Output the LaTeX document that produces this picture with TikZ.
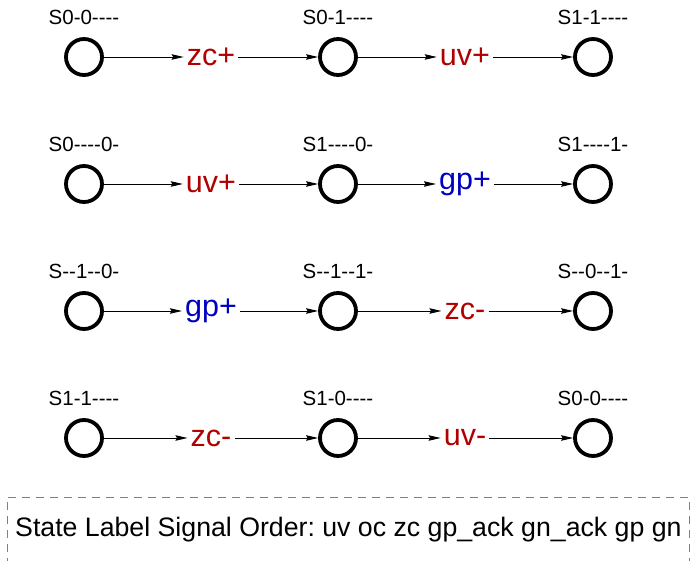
\documentclass[tikz,border=0pt]{standalone}
\usepackage{fontspec}
\setmainfont{Liberation Sans}[Ligatures=TeXOff]
\usetikzlibrary{arrows.meta, positioning}
\definecolor{eventred}{HTML}{B00000}
\definecolor{eventblue}{HTML}{0000C0}
\definecolor{legendframe}{HTML}{808080}
\frenchspacing

\begin{document}
\begin{tikzpicture}[
        x=1pt, y=-1pt,
        node distance=4pt,
        state/.style={
            draw,
            circle,
            line width=3.8pt,
            minimum size=36pt,
            inner sep=0pt
        },
        statename/.style={
            font=\fontsize{20.5}{24}\selectfont,
            inner sep=0pt
        },
        event/.style={
            font=\fontsize{30.5}{36}\selectfont,
            inner sep=3pt
        },
        rise/.style={event, text=eventred},
        guard/.style={event, text=eventblue},
        trans/.style={-{Stealth[length=12pt, width=5.5pt, inset=1.5pt]}, line width=0.9pt}
    ]
        \useasboundingbox (0,0) rectangle (691,561);

        % row 1
        \node[state] (a1) at (84,57) {};
        \node[state] (a2) at (338,57) {};
        \node[state] (a3) at (593,57) {};
        \node[statename, above=12pt of a1] (a1name) {S0-0----};
        \node[statename, above=12pt of a2] (a2name) {S0-1----};
        \node[statename, above=12pt of a3] (a3name) {S1-1----};
        \node[rise] (a12) at (211,57) {zc+};
        \node[rise] (a23) at (465,57) {uv+};
        \draw[trans] (a1) -- (a12);
        \draw[trans] (a12) -- (a2);
        \draw[trans] (a2) -- (a23);
        \draw[trans] (a23) -- (a3);

        % row 2
        \node[state] (b1) at (84,184) {};
        \node[state] (b2) at (338,184) {};
        \node[state] (b3) at (593,184) {};
        \node[statename, above=12pt of b1] (b1name) {S0----0-};
        \node[statename, above=12pt of b2] (b2name) {S1----0-};
        \node[statename, above=12pt of b3] (b3name) {S1----1-};
        \node[rise] (b12) at (211,184) {uv+};
        \node[guard] (b23) at (465,184) {gp+};
        \draw[trans] (b1) -- (b12);
        \draw[trans] (b12) -- (b2);
        \draw[trans] (b2) -- (b23);
        \draw[trans] (b23) -- (b3);

        % row 3
        \node[state] (c1) at (84,311) {};
        \node[state] (c2) at (338,311) {};
        \node[state] (c3) at (593,311) {};
        \node[statename, above=12pt of c1] (c1name) {S--1--0-};
        \node[statename, above=12pt of c2] (c2name) {S--1--1-};
        \node[statename, above=12pt of c3] (c3name) {S--0--1-};
        \node[guard] (c12) at (211,311) {gp+};
        \node[rise] (c23) at (465,311) {zc-};
        \draw[trans] (c1) -- (c12);
        \draw[trans] (c12) -- (c2);
        \draw[trans] (c2) -- (c23);
        \draw[trans] (c23) -- (c3);

        % row 4
        \node[state] (d1) at (84,438) {};
        \node[state] (d2) at (338,438) {};
        \node[state] (d3) at (593,438) {};
        \node[statename, above=12pt of d1] (d1name) {S1-1----};
        \node[statename, above=12pt of d2] (d2name) {S1-0----};
        \node[statename, above=12pt of d3] (d3name) {S0-0----};
        \node[rise] (d12) at (211,438) {zc-};
        \node[rise] (d23) at (465,438) {uv-};
        \draw[trans] (d1) -- (d12);
        \draw[trans] (d12) -- (d2);
        \draw[trans] (d2) -- (d23);
        \draw[trans] (d23) -- (d3);

        % legend
        \draw[legendframe, dash pattern=on 8pt off 6pt, line width=0.8pt]
            (7,580) -- (7,497) -- (689,497) -- (689,580);
        \node[font=\fontsize{26.7}{30}\selectfont, anchor=west, inner sep=0pt]
            (order) at (15,530) {State Label Signal Order: uv oc zc gp\_ack gn\_ack gp gn};
    \end{tikzpicture}
\end{document}
